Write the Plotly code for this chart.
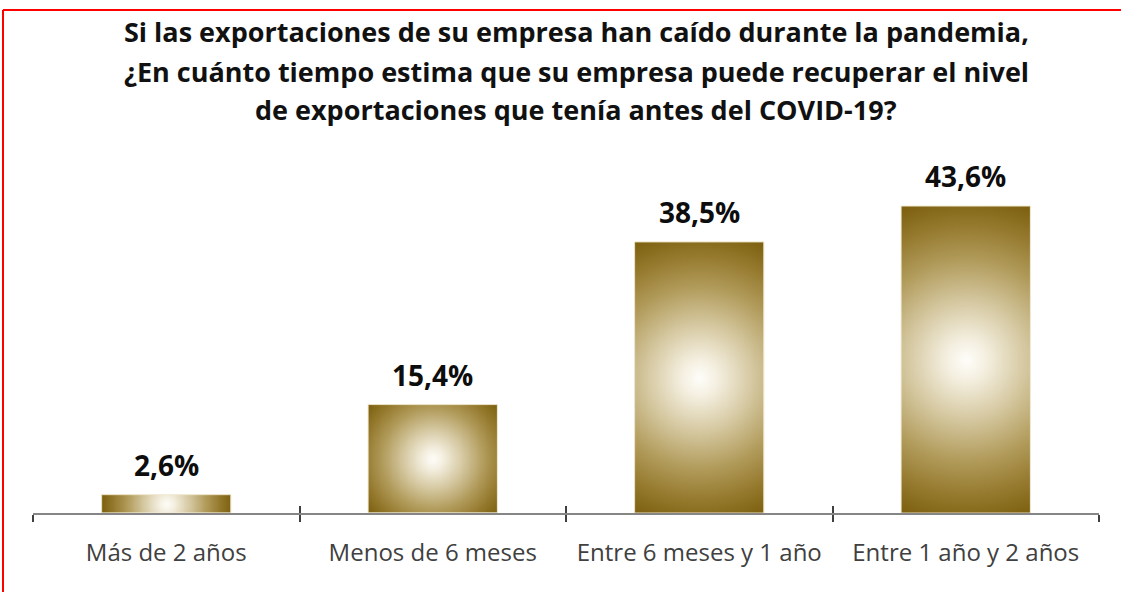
import numpy as np
import plotly.graph_objects as go

# ---------------- data ----------------
categories = ["Más de 2 años", "Menos de 6 meses", "Entre 6 meses y 1 año", "Entre 1 año y 2 años"]
values = [2.6, 15.4, 38.5, 43.6]
value_labels = ["2,6%", "15,4%", "38,5%", "43,6%"]
title_lines = [
    "Si las exportaciones de su empresa han caído durante la pandemia,",
    "¿En cuánto tiempo estima que su empresa puede recuperar el nivel",
    "de exportaciones que tenía antes del COVID-19?",
]

# ---------------- layout constants ----------------
W, H = 1121, 592
ML, MR, MT, MB = 33, 22, 150, 79
PW, PH = W - ML - MR, H - MT - MB
YMAX = 51.56
BAR_W = 0.485
PX_X = PW / len(categories)
PX_Y = PH / YMAX

FONT = "Open Sans"
pos = list(range(len(categories)))
bounds = [p - 0.5 for p in pos] + [pos[-1] + 0.5]

colorscale = [
    [0.0, "#fffefb"],
    [0.12, "#f4efe0"],
    [0.35, "#d6c9a2"],
    [0.6, "#b29c5c"],
    [0.82, "#94782c"],
    [1.0, "#7c600f"],
]

fig = go.Figure()

# radial-gradient fill of each bar (extent from the data values)
for p, v in zip(pos, values):
    nx = 48
    ny = max(6, int(round(v * PX_Y / 3)))
    xe = np.linspace(p - BAR_W / 2, p + BAR_W / 2, nx + 1)
    ye = np.linspace(0, v, ny + 1)
    xc = (xe[:-1] + xe[1:]) / 2
    yc = (ye[:-1] + ye[1:]) / 2
    dx = (xc - p) * PX_X
    dy = (yc - v / 2) * PX_Y
    R = np.hypot(BAR_W / 2 * PX_X, v / 2 * PX_Y)
    z = np.hypot(dx[None, :], dy[:, None]) / R
    fig.add_trace(go.Heatmap(
        x=xe, y=ye, z=z, zmin=0, zmax=1, colorscale=colorscale,
        zsmooth="best", showscale=False, hoverinfo="skip",
        xaxis="x", yaxis="y",
    ))

# the bars themselves (outline on top of gradient fill)
fig.add_trace(go.Bar(
    x=pos, y=values, width=BAR_W,
    marker=dict(color="rgba(0,0,0,0)", line=dict(color="rgba(238,229,202,0.9)", width=1)),
    text=value_labels, hovertext=categories, hoverinfo="text+y", textposition="none",
    xaxis="x2", yaxis="y", showlegend=False,
))

# value labels
for p, v, t in zip(pos, values, value_labels):
    fig.add_annotation(
        x=p, y=v, xref="x", yref="y", text=t, showarrow=False,
        yanchor="middle", yshift=30,
        font=dict(family=FONT, size=28, color="#0d0d0d", weight="bold"),
    )

# title lines
title_y_px = [31, 71, 109]
for line, ypx in zip(title_lines, title_y_px):
    fig.add_annotation(
        x=(576 - ML) / PW, y=1, xref="paper", yref="paper", text=line,
        showarrow=False, xanchor="center", yanchor="middle", yshift=MT - ypx,
        font=dict(family=FONT, size=27, color="#111111", weight="bold"),
    )

# red frame
top_y = (H - MB - 10) / PH
left_x = (3 - ML) / PW
fig.add_shape(type="line", xref="paper", yref="paper",
              x0=left_x, x1=(W - ML + 5) / PW, y0=top_y, y1=top_y,
              line=dict(color="#ff0000", width=2))
fig.add_shape(type="line", xref="paper", yref="paper",
              x0=left_x, x1=left_x, y0=top_y, y1=-(MB + 5) / PH,
              line=dict(color="#ff0000", width=2))

fig.update_layout(
    width=W, height=H,
    margin=dict(l=ML, r=MR, t=MT, b=MB),
    paper_bgcolor="white", plot_bgcolor="white",
    showlegend=False,
    xaxis=dict(
        range=[bounds[0], bounds[-1]], tickmode="array", tickvals=pos, ticktext=categories,
        ticks="", showgrid=False, zeroline=False,
        showline=True, linecolor="#868686", linewidth=2,
        ticklabelstandoff=17,
        tickfont=dict(family=FONT, size=24, color="#404040"),
        minor=dict(tickmode="array", tickvals=bounds, ticks="outside", ticklen=7,
                   tickwidth=2, tickcolor="#404040", showgrid=False),
    ),
    xaxis2=dict(
        overlaying="x", anchor="y", side="bottom",
        range=[bounds[0], bounds[-1]], tickmode="array", tickvals=bounds,
        ticks="inside", ticklen=7, tickwidth=2, tickcolor="#404040",
        showticklabels=False, showgrid=False, zeroline=False, showline=False,
    ),
    yaxis=dict(range=[0, YMAX], visible=False, showgrid=False, zeroline=False),
)

fig.write_html("out.html", config={"displayModeBar": False},
               post_script="document.body.style.margin='0';")
